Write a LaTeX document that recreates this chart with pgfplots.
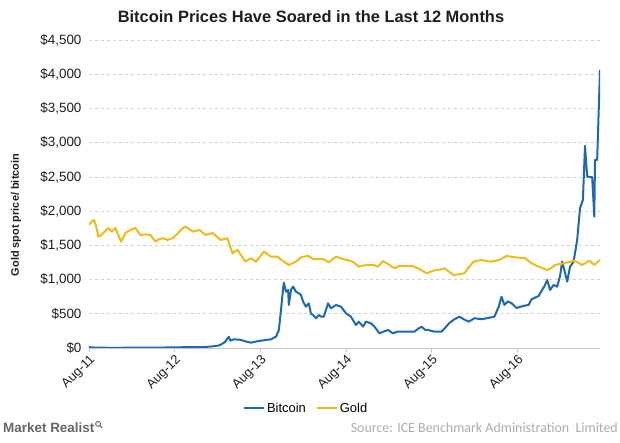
\documentclass[border=0pt]{standalone}
\usepackage{pgfplots}
\pgfplotsset{compat=1.18}
\usepackage{fontspec}
\setmainfont{Liberation Sans}
\newfontfamily\srcfont{Carlito}
\definecolor{btc}{RGB}{28,105,178}
\definecolor{gld}{RGB}{240,188,20}
\definecolor{lbl}{RGB}{30,30,30}
\begin{document}
\begin{tikzpicture}
\begin{axis}[
  scale only axis, width=511bp, height=308bp,
  xmin=0, xmax=71.6, ymin=0, ymax=4500,
  axis x line*=bottom, axis y line*=left,
  y axis line style={draw=none},
  x axis line style={draw=gray!45, line width=0.8pt},
  xtick={0,12,24,36,48,60},
  xticklabels={Aug-11,Aug-12,Aug-13,Aug-14,Aug-15,Aug-16},
  xticklabel style={rotate=45, anchor=north east, font=\fontsize{13}{15}\selectfont, inner sep=1pt, text=lbl},
  ytick={0,500,1000,1500,2000,2500,3000,3500,4000,4500},
  yticklabels={\$0,\$500,{\$1,000},{\$1,500},{\$2,000},{\$2,500},{\$3,000},{\$3,500},{\$4,000},{\$4,500}},
  yticklabel style={font=\fontsize{13.5}{15}\selectfont, text=lbl},
  ymajorgrids, major grid style={gray!35, dashed, line width=0.6pt},
  tick align=outside, major tick length=4bp,
  xtick style={gray!45, line width=0.8pt},
  ytick style={draw=none},
  legend style={at={(0.425,-0.195)}, anchor=center, draw=none, fill=none,
    legend columns=2, font=\fontsize{13}{15}\selectfont,
    /tikz/every even column/.append style={column sep=8bp}},
  legend image code/.code={\draw[#1] (0bp,0bp) -- (20bp,0bp);},
]
\addplot[btc, line width=2pt, line join=round] coordinates {
(0,12) (1,5) (2,4) (3,3) (4,3) (6,5) (8,5) (10,6) (12,10) (14,12) (15.6,13)
(17,20) (18,33) (18.4,44) (19.1,92) (19.4,140) (19.6,165) (19.8,107) (20.3,127)
(21.2,120) (22.0,95) (22.7,78) (23.4,95) (24.1,107) (25.0,120) (25.5,127)
(26.2,165) (26.6,263) (26.9,555) (27.2,873) (27.3,955) (27.6,823) (27.9,848)
(28.0,628) (28.3,848) (28.6,897) (29.0,823) (29.4,799) (29.7,775) (30.0,677)
(30.4,604) (30.8,653) (31.1,500) (31.4,482) (31.8,434) (32.2,482) (32.5,458)
(32.9,458) (33.5,653) (33.9,580) (34.6,628) (35.3,604) (36.0,507) (36.7,458)
(37.4,336) (37.8,385) (38.4,312) (38.8,385) (39.5,360) (40.0,312) (40.7,214)
(41.2,238) (41.9,263) (42.6,214) (43.2,240) (43.8,238) (44.7,238) (45.6,238)
(46.1,280) (46.6,312) (47.1,265) (47.5,263) (48.4,238) (49.4,238) (50.5,365)
(51.2,420) (51.9,458) (52.5,420) (53.2,385) (54.0,435) (55.0,420) (56.0,440)
(56.8,458) (57.4,600) (57.8,750) (58.2,630) (58.7,680) (59.2,655) (59.9,585)
(60.7,610) (61.6,630) (62.0,712) (63.0,760) (63.2,799) (63.8,900) (64.2,994)
(64.6,848) (65.1,921) (65.6,897) (66.0,1050) (66.3,1262) (66.6,1140) (67.0,970)
(67.4,1189) (67.9,1262) (68.4,1579) (68.8,2043) (69.2,2164) (69.5,2953)
(69.8,2505) (70.5,2495) (70.8,1920) (70.9,2749) (71.2,2749) (71.6,4064)
};
\addlegendentry{Bitcoin}
\addplot[gld, line width=2pt, line join=round] coordinates {
(0,1798) (0.4,1850) (0.7,1871) (1.0,1780) (1.3,1627) (1.7,1650) (2.0,1680)
(2.4,1720) (2.7,1754) (3.2,1700) (3.7,1754) (4.1,1650) (4.5,1554) (5.1,1680)
(5.8,1725) (6.5,1754) (7.2,1652) (7.9,1660) (8.6,1652) (9.3,1554) (9.8,1590)
(10.4,1603) (11.0,1580) (11.7,1603) (12.5,1680) (13.0,1740) (13.5,1774)
(14.0,1740) (14.6,1700) (15.5,1725) (16.3,1652) (17.3,1680) (17.9,1630)
(18.4,1579) (19.4,1603) (20.1,1384) (20.8,1433) (21.2,1370) (21.9,1262)
(22.7,1311) (23.4,1262) (24.0,1340) (24.5,1408) (25.5,1335) (26.4,1335)
(27.3,1262) (28.0,1213) (29.0,1262) (29.8,1330) (30.7,1345) (31.5,1296)
(32.2,1300) (32.9,1296) (33.6,1252) (34.6,1335) (35.7,1296) (36.4,1280)
(37.1,1252) (37.8,1189) (38.8,1213) (39.8,1213) (40.5,1189) (41.2,1270)
(42.1,1213) (42.8,1165) (43.5,1200) (44.4,1195) (45.2,1200) (46.1,1165)
(47.3,1092) (48.4,1135) (49.4,1150) (49.8,1165) (50.5,1110) (51.1,1067)
(52.0,1080) (52.6,1092) (53.2,1180) (53.9,1262) (55.0,1287) (55.7,1270)
(56.4,1262) (57.5,1287) (58.5,1345) (59.1,1335) (59.7,1325) (61.1,1311)
(62.0,1238) (63.0,1189) (64.2,1140) (64.8,1170) (65.3,1213) (66.5,1238)
(67.2,1255) (68.0,1277) (69.1,1213) (70.1,1277) (70.8,1213) (71.6,1287)
};
\addlegendentry{Gold}
\end{axis}
\node[font=\bfseries\fontsize{16.5}{18}\selectfont, text=lbl] at (222bp,331bp) {Bitcoin Prices Have Soared in the Last 12 Months};
\node[font=\bfseries\fontsize{11}{13}\selectfont, rotate=90, text=lbl] at (-73bp,133bp) {Gold spot price/ bitcoin};
\node[anchor=west, inner sep=0pt, font=\bfseries\fontsize{13.5}{15}\selectfont, text=gray!80!black] (mr) at (-86bp,-80bp) {Market Realist};
\draw[gray!80!black, line width=0.9pt] ([xshift=3.5bp,yshift=-1bp]mr.north east) circle (2.5bp);
\draw[gray!80!black, line width=1.1pt] ([xshift=5.3bp,yshift=-2.8bp]mr.north east) -- ([xshift=7.3bp,yshift=-4.8bp]mr.north east);
\node[anchor=east, inner sep=0pt, font=\srcfont\fontsize{14}{16}\selectfont, text=gray!65] at (529bp,-80bp) {Source: ICE Benchmark Administration\ \ Limited};
\pgfresetboundingbox
\path[use as bounding box] (-89bp,-95bp) rectangle (531bp,348bp);
\end{tikzpicture}
\end{document}
